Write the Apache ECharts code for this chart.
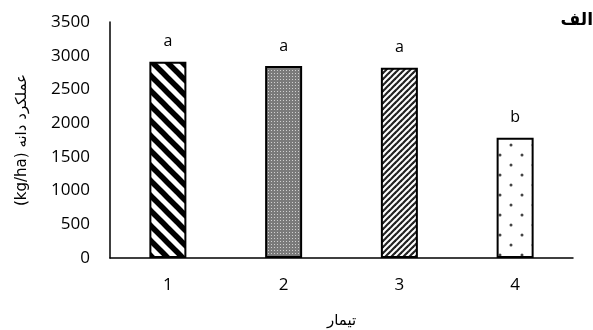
<!DOCTYPE html>
<html><head><meta charset="utf-8">
<script src="https://cdn.jsdelivr.net/npm/echarts@6/dist/echarts.min.js"></script>
<style>html,body{margin:0;padding:0;background:#fff}#c{width:593px;height:330px}</style>
</head><body><div id="c"></div>
<script>
const categories = ['1', '2', '3', '4'];
const values = [2911, 2847, 2822, 1784];
const letters = ['a', 'a', 'a', 'b'];
const yTicks = [0, 500, 1000, 1500, 2000, 2500, 3000, 3500];

function tile(w, h, draw) {
  const c = document.createElement('canvas');
  c.width = w; c.height = h;
  const g = c.getContext('2d');
  g.fillStyle = '#fff'; g.fillRect(0, 0, w, h);
  draw(g, w, h);
  return c;
}
const pBack = tile(15, 15, (g, w, h) => {
  g.strokeStyle = '#000'; g.lineWidth = 5.5;
  for (let k = -1; k <= 1; k++) { g.beginPath(); g.moveTo(k * w - 6, -6); g.lineTo(k * w + w + 6, h + 6); g.stroke(); }
});
const pFwd = tile(6, 6, (g, w, h) => {
  g.strokeStyle = '#222'; g.lineWidth = 2.2;
  for (let k = -1; k <= 1; k++) { g.beginPath(); g.moveTo(k * w - 4, h + 4); g.lineTo(k * w + w + 4, -4); g.stroke(); }
});
const pGrid = tile(3, 3, (g) => {
  g.fillStyle = '#7a7a7a'; g.fillRect(0, 0, 3, 3);
  g.fillStyle = '#d0d0d0'; g.fillRect(1, 1, 1, 1);
});
const pDots = tile(22, 20, (g) => {
  g.fillStyle = '#444';
  g.beginPath(); g.arc(5, 5, 1.5, 0, Math.PI * 2); g.fill();
  g.beginPath(); g.arc(16, 15, 1.5, 0, Math.PI * 2); g.fill();
});
const patterns = [pBack, pGrid, pFwd, pDots];

const chart = echarts.init(document.getElementById('c'), null, {renderer: 'canvas'});
chart.setOption({
  animation: false,
  grid: {left: 110, right: 20, top: 22, bottom: 72, outerBoundsMode: 'none', containLabel: false},
  xAxis: {
    type: 'category', data: categories,
    axisLine: {lineStyle: {color: '#000', width: 1.5}},
    axisTick: {show: false},
    axisLabel: {color: '#000', fontSize: 17, fontFamily: 'Open Sans', margin: 19},
    name: 'تیمار', nameLocation: 'middle', nameGap: 56,
    nameTextStyle: {color: '#000', fontSize: 15, fontFamily: 'DejaVu Sans'}
  },
  yAxis: {
    type: 'value', min: 0, max: 3500, interval: 500,
    axisLine: {show: true, lineStyle: {color: '#000', width: 1.5}},
    axisTick: {show: false},
    splitLine: {show: false},
    axisLabel: {color: '#000', fontSize: 17, fontFamily: 'Open Sans', margin: 20,
      formatter: v => yTicks.includes(v) ? String(v) : ''},
    name: '(kg/ha) عملکرد دانه', nameLocation: 'middle', nameGap: 80,
    nameTextStyle: {color: '#000', fontSize: 15, fontFamily: 'DejaVu Sans'}
  },
  graphic: [{
    type: 'text', right: 0, top: 12,
    style: {text: 'الف', fill: '#000', font: 'bold 17px DejaVu Sans'}
  }],
  series: [{
    type: 'bar', barWidth: 37,
    data: values.map((v, i) => ({
      value: v,
      itemStyle: {color: {image: patterns[i], repeat: 'repeat'}, borderColor: '#000', borderWidth: 2}
    })),
    label: {show: true, position: 'top', distance: 12, color: '#000', fontSize: 16, fontFamily: 'Open Sans',
      formatter: p => letters[p.dataIndex]}
  }]
});
</script></body></html>
